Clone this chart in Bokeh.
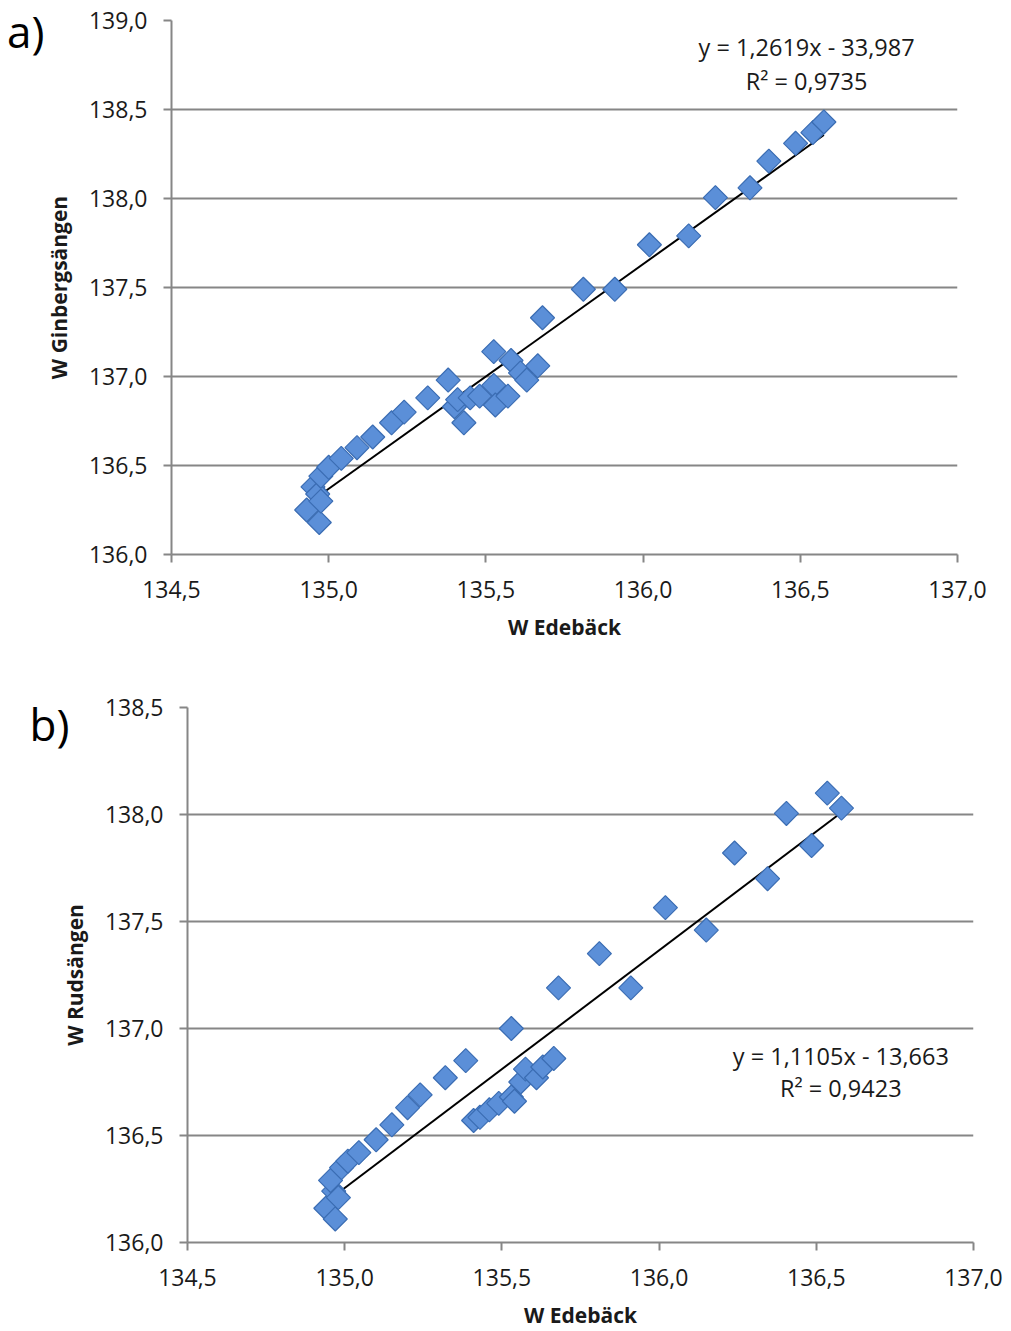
import numpy as np
from bokeh.plotting import figure
from bokeh.models import FixedTicker, CustomJSTickFormatter, Label, Range1d, LinearAxis
from bokeh.embed import file_html
from bokeh.resources import INLINE

# ---- data ----
xa = [134.93, 134.97, 134.95, 134.965, 134.975, 134.975, 135.0, 135.04, 135.09, 135.14,
      135.20, 135.24, 135.315, 135.38, 135.40, 135.41, 135.43, 135.45, 135.48, 135.525,
      135.53, 135.57, 135.525, 135.58, 135.61, 135.63, 135.665, 135.68, 135.81, 135.91,
      136.02, 136.145, 136.23, 136.34, 136.40, 136.485, 136.54, 136.575]
ya = [136.25, 136.18, 136.38, 136.34, 136.30, 136.44, 136.49, 136.54, 136.60, 136.66,
      136.74, 136.80, 136.88, 136.98, 136.83, 136.87, 136.74, 136.88, 136.89, 136.95,
      136.84, 136.89, 137.14, 137.09, 137.02, 136.98, 137.06, 137.33, 137.49, 137.49,
      137.74, 137.79, 138.005, 138.06, 138.21, 138.31, 138.37, 138.43]

xb = [134.94, 134.97, 134.965, 134.98, 134.955, 134.99, 135.01, 135.045, 135.10, 135.15,
      135.20, 135.24, 135.32, 135.385, 135.53, 135.41, 135.43, 135.46, 135.49, 135.53,
      135.54, 135.56, 135.575, 135.61, 135.63, 135.665, 135.68, 135.81, 135.91, 136.02,
      136.15, 136.24, 136.345, 136.405, 136.485, 136.535, 136.58]
yb = [136.16, 136.11, 136.24, 136.21, 136.29, 136.35, 136.38, 136.42, 136.48, 136.55,
      136.63, 136.69, 136.77, 136.85, 137.00, 136.57, 136.585, 136.62, 136.65, 136.68,
      136.66, 136.75, 136.81, 136.77, 136.82, 136.86, 137.19, 137.35, 137.19, 137.565,
      137.46, 137.82, 137.70, 138.005, 137.855, 138.10, 138.03]

fit_a = (1.2619, -33.987)
fit_b = (1.1105, -13.663)
eq_a = ["y = 1,2619x - 33,987", "R² = 0,9735"]
eq_b = ["y = 1,1105x - 13,663", "R² = 0,9423"]

x_ticks = [134.5, 135.0, 135.5, 136.0, 136.5, 137.0]
y_ticks_a = [136.0, 136.5, 137.0, 137.5, 138.0, 138.5, 139.0]
y_ticks_b = [136.0, 136.5, 137.0, 137.5, 138.0, 138.5]

FONT = "Open Sans"
GRID = "#868686"
TXT = "#1a1a1a"

fmt = CustomJSTickFormatter(code="return tick.toFixed(1).replace('.', ',');")


def panel(x, y, fit, eq, ylabel, yticks, height, borders, tag, tag_y, tag_standoff, eq_pos):
    left, right, top, bottom = borders
    p = figure(width=1011, height=height, output_backend="svg", toolbar_location=None,
               x_range=Range1d(134.5, 137.0), y_range=Range1d(yticks[0], yticks[-1]),
               min_border_left=left, min_border_right=right,
               min_border_top=top, min_border_bottom=bottom)
    p.outline_line_color = None
    p.background_fill_color = "white"
    p.border_fill_color = "white"
    p.xgrid.visible = False
    p.ygrid.grid_line_color = GRID
    p.ygrid.grid_line_width = 2
    p.ygrid.ticker = FixedTicker(ticks=yticks)
    for ax, ticks in ((p.xaxis[0], x_ticks), (p.yaxis[0], yticks)):
        ax.ticker = FixedTicker(ticks=ticks)
        ax.formatter = fmt
        ax.axis_line_color = GRID
        ax.axis_line_width = 2
        ax.major_tick_line_color = GRID
        ax.major_tick_line_width = 2
        ax.major_tick_out = 8
        ax.major_tick_in = 0
        ax.minor_tick_line_color = None
        ax.major_label_text_font = FONT
        ax.major_label_text_font_size = "23px"
        ax.major_label_text_color = TXT
        ax.axis_label_text_font = FONT
        ax.axis_label_text_font_size = "21px"
        ax.axis_label_text_font_style = "bold"
        ax.axis_label_text_color = TXT
    p.xaxis.axis_label = "W Edebäck"
    p.yaxis.axis_label = ylabel
    p.xaxis.major_label_standoff = 18
    p.yaxis.major_label_standoff = 16
    p.xaxis.axis_label_standoff = 12
    p.yaxis.axis_label_standoff = 13

    # panel tag ("a)" / "b)") drawn as the single label of an extra bare left axis
    tag_axis = LinearAxis(ticker=FixedTicker(ticks=[tag_y]),
                          major_label_overrides={tag_y: tag},
                          axis_line_color=None, major_tick_line_color=None,
                          minor_tick_line_color=None,
                          major_label_orientation="horizontal",
                          major_label_standoff=tag_standoff,
                          major_label_text_font=FONT,
                          major_label_text_font_size="44px",
                          major_label_text_color="black")
    p.add_layout(tag_axis, "left")

    x0, x1 = min(x), max(x)
    p.line([x0, x1], [fit[0] * x0 + fit[1], fit[0] * x1 + fit[1]],
           line_color="black", line_width=2)
    p.scatter(x, y, marker="square", size=17, angle=np.pi / 4,
              fill_color="#5b8fd8", line_color="#3b6db3", line_width=1.2)

    ex, ey1, ey2 = eq_pos
    for txt, yy in zip(eq, (ey1, ey2)):
        p.add_layout(Label(x=ex, y=yy, text=txt, text_align="center",
                           text_baseline="middle", text_font=FONT,
                           text_font_size="23.5px", text_color=TXT))
    return p


pa = panel(xa, ya, fit_a, eq_a, "W Ginbergsängen", y_ticks_a, 650,
           (171, 54, 20, 96), "a)", 138.94, -9, (136.52, 138.85, 138.66))
pb = panel(xb, yb, fit_b, eq_b, "W Rudsängen", y_ticks_b, 681,
           (187, 38, 57, 89), "b)", 138.424, -18, (136.578, 136.87, 136.72))

open("out.html", "w").write(file_html([pa, pb], INLINE))
